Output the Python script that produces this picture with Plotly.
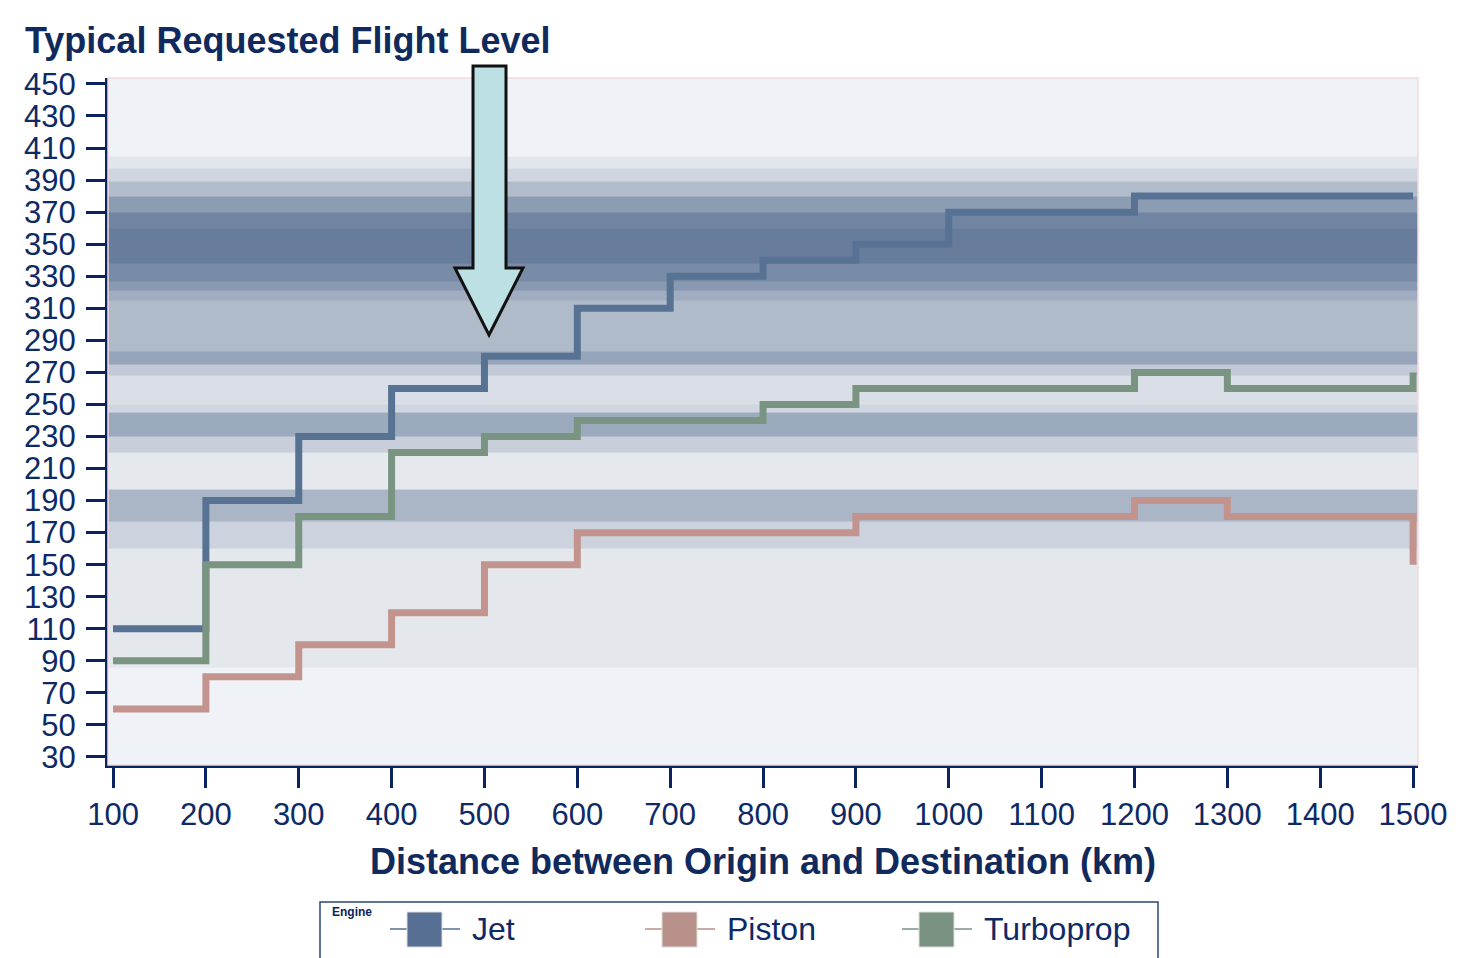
import plotly.graph_objects as go

# ---------------- data ----------------
distance_km = [100, 200, 300, 400, 500, 600, 700, 800, 900, 1000, 1100, 1200, 1300, 1400, 1500]
jet_fl = [110, 190, 230, 260, 280, 310, 330, 340, 350, 370, 370, 380, 380, 380, 380]
piston_fl = [60, 80, 100, 120, 150, 170, 170, 170, 180, 180, 180, 190, 180, 180, 150]
turboprop_fl = [90, 150, 180, 220, 230, 240, 240, 250, 260, 260, 260, 270, 260, 260, 270]
series_names = ["Jet", "Piston", "Turboprop"]

x_ticks = [100, 200, 300, 400, 500, 600, 700, 800, 900, 1000, 1100, 1200, 1300, 1400, 1500]
y_ticks = [30, 50, 70, 90, 110, 130, 150, 170, 190, 210, 230, 250, 270, 290, 310, 330, 350, 370, 390, 410, 430, 450]

# background flight-level density bands (edges in FL, relative intensity)
band_edges = [25, 86, 160, 177, 197, 220, 230, 245, 250, 268, 275, 283, 315, 321, 327, 338, 360, 370, 380, 389, 397, 405, 454]
band_intensity = [0, 0.08, 0.22, 0.40, 0.07, 0.25, 0.47, 0.2, 0.14, 0.28, 0.5, 0.37, 0.45, 0.57, 0.68, 0.85, 0.75, 0.55, 0.36, 0.2, 0.09, 0]

# ---------------- style ----------------
OFF = 8                      # page body margin of the browser
W, H = 1458 - OFF, 958 - OFF
L, R, T, B = 108 - OFF, 1418 - OFF, 78 - OFF, 765 - OFF
X_RANGE = [94.6, 1505.3]
Y_RANGE = [25, 453.7]
NAVY = "#0b2460"
TXT = "#0d2a66"
FONT = "Liberation Sans, Arial, sans-serif"
colors = {"Jet": "#587294", "Piston": "#c2948d", "Turboprop": "#7a9482"}
legend_colors = {"Jet": "#566f92", "Piston": "#b8918a", "Turboprop": "#7a9282"}


def px(x):
    """reference-image x pixel -> paper coordinate"""
    return (x - OFF - L) / (R - L)


def py(y):
    """reference-image y pixel -> paper coordinate"""
    return (B - (y - OFF)) / (B - T)


fig = go.Figure()

fig.add_trace(go.Heatmap(
    x=X_RANGE,
    y=band_edges,
    z=[[v] for v in band_intensity],
    zmin=0, zmax=1,
    colorscale=[[0, "#eff2f6"], [0.1, "#e1e5eb"], [0.25, "#c8cfdb"], [0.4, "#aab6c6"],
                [0.55, "#8c9cb3"], [0.7, "#7689a5"], [0.85, "#687d9c"], [1, "#5b7093"]],
    showscale=False,
    hoverinfo="skip",
))

for name, vals in zip(series_names, [jet_fl, piston_fl, turboprop_fl]):
    fig.add_trace(go.Scatter(
        x=distance_km, y=vals, mode="lines", name=name,
        line=dict(shape="hv", width=7, color=colors[name]),
        showlegend=False,
    ))

shapes = []
# faint plot border
shapes.append(dict(type="rect", xref="paper", yref="paper", layer="above",
                   x0=0, x1=1, y0=0, y1=1,
                   line=dict(color="#f2dadd", width=1.5)))

# big arrow
pts = [(473, 66), (506, 66), (506, 268), (523, 268), (489, 335), (455, 268), (473, 268)]
path = "M " + " L ".join(f"{px(a):.5f},{py(b):.5f}" for a, b in pts) + " Z"
shapes.append(dict(type="path", xref="paper", yref="paper", layer="above", path=path,
                   fillcolor="#bde0e4", line=dict(color="#111111", width=3)))

# manual legend
shapes.append(dict(type="rect", xref="paper", yref="paper", layer="above",
                   x0=px(320), x1=px(1158), y0=py(962), y1=py(902),
                   fillcolor="rgba(255,255,255,0)", line=dict(color="#2e4574", width=1.5)))
annotations = [dict(text="<b>Engine</b>", xref="paper", yref="paper", x=px(330), y=py(912),
                    xanchor="left", yanchor="middle", showarrow=False,
                    font=dict(family=FONT, size=12, color=NAVY))]
legend_x = {"Jet": 390, "Piston": 645, "Turboprop": 902}
for name in series_names:
    x0 = legend_x[name]
    shapes.append(dict(type="line", xref="paper", yref="paper", layer="above",
                       x0=px(x0), x1=px(x0 + 70), y0=py(929), y1=py(929),
                       line=dict(color=legend_colors[name], width=1.5)))
    shapes.append(dict(type="rect", xref="paper", yref="paper", layer="above",
                       x0=px(x0 + 17), x1=px(x0 + 52), y0=py(947), y1=py(912),
                       fillcolor=legend_colors[name], line=dict(color="#dddddd", width=1)))
    annotations.append(dict(text=name, xref="paper", yref="paper", x=px(x0 + 80), y=py(929),
                            xanchor="left", yanchor="middle", showarrow=False,
                            font=dict(family=FONT, size=32, color=TXT)))

fig.update_layout(
    width=W, height=H,
    margin=dict(l=L, r=W - R, t=T, b=H - B, autoexpand=False),
    paper_bgcolor="white", plot_bgcolor="#eff2f6",
    title=dict(text="<b>Typical Requested Flight Level</b>", xref="container", yref="container",
               x=(25 - OFF) / W, xanchor="left", y=1 - (40 - OFF) / H, yanchor="middle",
               font=dict(family=FONT, size=36, color="#102a5e")),
    shapes=shapes, annotations=annotations,
    showlegend=False,
)
fig.update_xaxes(
    range=X_RANGE, tickvals=x_ticks, ticktext=[str(v) for v in x_ticks],
    showline=True, linecolor=NAVY, linewidth=3, mirror=False,
    ticks="outside", ticklen=20, tickwidth=3, tickcolor=NAVY,
    showgrid=False, zeroline=False,
    tickfont=dict(family=FONT, size=31, color=TXT),
    title=dict(text="<b>Distance between Origin and Destination (km)</b>", standoff=18,
               font=dict(family=FONT, size=36, color="#102a5e")),
    automargin=False,
)
fig.update_yaxes(
    range=Y_RANGE, tickvals=y_ticks, ticktext=[str(v) for v in y_ticks],
    showline=True, linecolor=NAVY, linewidth=3,
    ticks="outside", ticklen=19, tickwidth=3, tickcolor=NAVY,
    showgrid=False, zeroline=False,
    tickfont=dict(family=FONT, size=31, color=TXT),
    ticklabelstandoff=4,
    automargin=False,
)

fig.write_html("out.html")
